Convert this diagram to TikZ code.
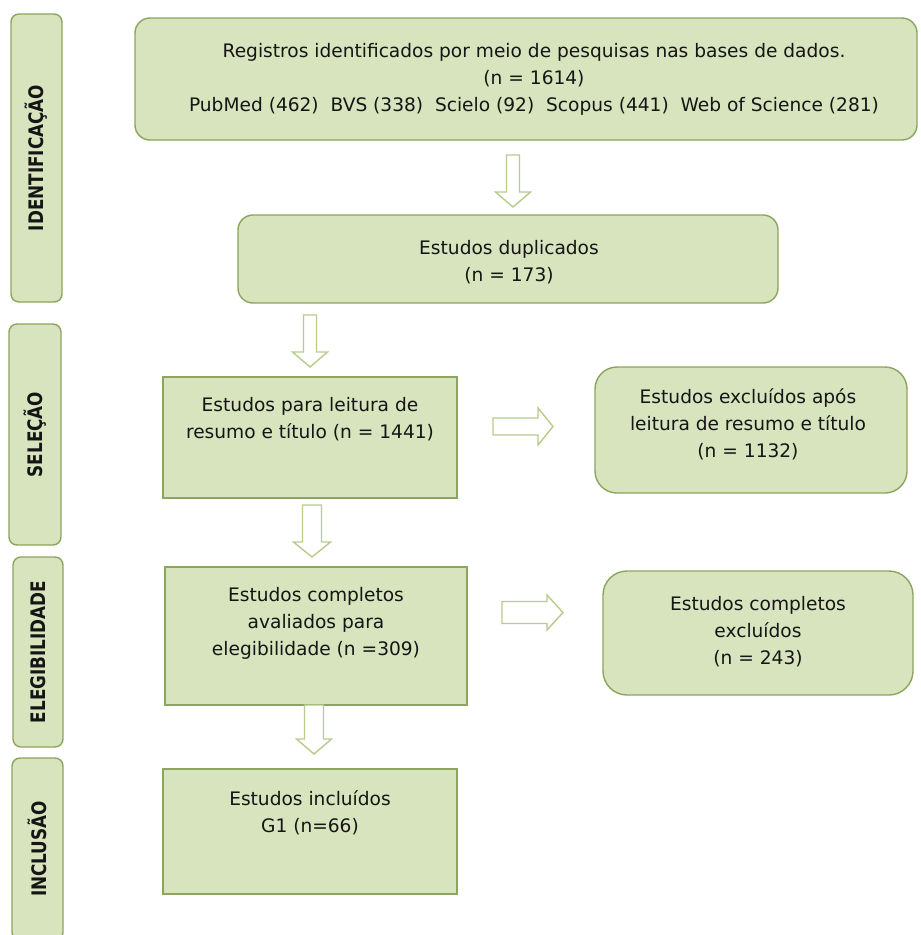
\documentclass[tikz,border=0pt]{standalone}
\usepackage{fontspec}
\setmainfont{DejaVu Sans}
\newfontfamily\sidefont{DejaVu Sans}[FakeStretch=0.84]
\definecolor{boxfill}{HTML}{D7E4BD}
\definecolor{boxline}{HTML}{8CA55E}
\definecolor{arrline}{HTML}{B7CC8C}
\definecolor{txt}{HTML}{151515}
\newcommand\DownArr[5]{% cx, ytop, ytip, stem half, head half
  \draw[barrow] (#1-#4,#2) -- (#1+#4,#2) -- (#1+#4,#3-15) -- (#1+#5,#3-15) -- (#1,#3)
    -- (#1-#5,#3-15) -- (#1-#4,#3-15) -- cycle;}
\newcommand\RightArr[6]{% xstart, xtip, cy, stem half, head half, head len
  \draw[barrow] (#1,#3-#4) -- (#2-#6,#3-#4) -- (#2-#6,#3-#5) -- (#2,#3) -- (#2-#6,#3+#5)
    -- (#2-#6,#3+#4) -- (#1,#3+#4) -- cycle;}
\begin{document}
\begin{tikzpicture}[x=1pt,y=-1pt,
  box/.style={draw=boxline, fill=boxfill, line width=1.4pt, inner sep=0pt},
  sidebox/.style={box, rounded corners=8pt, rotate=90, text=txt,
    font=\sidefont\fontsize{20}{22}\selectfont\bfseries},
  lbl/.style={text=txt, align=center, inner sep=0pt,
    font=\fontsize{18.6}{27}\selectfont},
  barrow/.style={draw=arrline, fill=white, line width=1.4pt, line join=miter}]
\useasboundingbox[fill=white] (0,0) rectangle (921,935);
\begin{scope}
\clip (0,0) rectangle (921,935);
% side labels
\node[sidebox, minimum width=288pt, minimum height=51pt] (s1) at (36.5,158) {IDENTIFICAÇÃO};
\node[sidebox, minimum width=221pt, minimum height=52pt] (s2) at (35,434.5) {SELEÇÃO};
\node[sidebox, minimum width=190pt, minimum height=50pt] (s3) at (38,652) {ELEGIBILIDADE};
\node[sidebox, minimum width=182pt, minimum height=51pt] (s4) at (37.5,849) {INCLUSÃO};
\end{scope}
% boxes
\node[box, rounded corners=15pt, minimum width=782pt, minimum height=122pt] (top) at (526,79) {};
\node[box, rounded corners=15pt, minimum width=540pt, minimum height=88pt] (dup) at (508,259) {};
\node[box, minimum width=294pt, minimum height=121pt] (lei) at (310,437.5) {};
\node[box, rounded corners=22pt, minimum width=312pt, minimum height=126pt] (exc1) at (751,430) {};
\node[box, minimum width=302pt, minimum height=138pt] (comp) at (316,636) {};
\node[box, rounded corners=24pt, minimum width=310pt, minimum height=124pt] (exc2) at (758,633) {};
\node[box, minimum width=294pt, minimum height=125pt] (inc) at (310,831.5) {};
% texts
\node[lbl] (ttop) at (534,79.5) {Registros identificados por meio de pesquisas nas bases de dados.\\(n = 1614)\\PubMed (462)~~BVS (338)~~Scielo (92)~~Scopus (441)~~Web of Science (281)};
\node[lbl] (tdup) at (509,262) {Estudos duplicados\\(n = 173)};
\node[lbl] (tlei) at (310,419.5) {Estudos para leitura de\\resumo e título (n = 1441)};
\node[lbl] (texc1) at (748,424) {Estudos excluídos após\\leitura de resumo e título\\(n = 1132)};
\node[lbl] (tcomp) at (316,623.5) {Estudos completos\\avaliados para\\elegibilidade (n =309)};
\node[lbl] (texc2) at (758,632) {Estudos completos\\excluídos\\(n = 243)};
\node[lbl] (tinc) at (310,812.5) {Estudos incluídos\\G1 (n=66)};
% block arrows
\DownArr{513}{155}{207}{6.5}{17.5}
\DownArr{310}{315}{367}{6.5}{17.5}
\DownArr{312}{505}{557}{9.5}{18.5}
\DownArr{314}{705}{754}{9.5}{17.5}
\RightArr{493}{553}{426.5}{8.5}{18.5}{15}
\RightArr{502}{563}{612.5}{11}{17.5}{16}
\end{tikzpicture}
\end{document}
